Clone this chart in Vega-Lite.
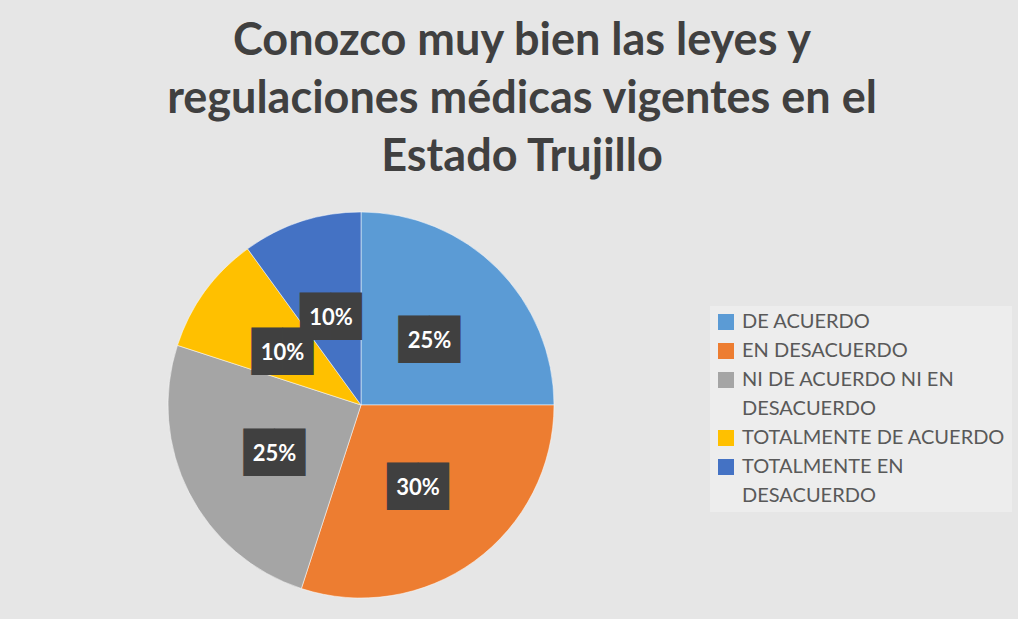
{
  "$schema": "https://vega.github.io/schema/vega-lite/v6.json",
  "width": 702,
  "height": 410,
  "autosize": {"type": "none"},
  "padding": {"left": 10, "top": 200, "right": 306, "bottom": 9},
  "background": "#e6e6e6",
  "title": {
    "text": ["Conozco muy bien las leyes y", "regulaciones médicas vigentes en el", "Estado Trujillo"],
    "font": "Lato",
    "fontSize": 45,
    "fontWeight": "bold",
    "color": "#404040",
    "lineHeight": 58,
    "anchor": "middle",
    "frame": "bounds",
    "offset": 20,
    "dx": 11
  },
  "config": {
    "style": {"guide-label": {"lineHeight": 29}},
    "view": {
      "stroke": null,
      "fill": {
        "gradient": "linear",
        "x1": 0, "y1": 0, "x2": 0, "y2": 1,
        "stops": [
          {"offset": 0, "color": "#e6e6e6"},
          {"offset": 1, "color": "#c8c8c8"}
        ]
      }
    }
  },
  "data": {
    "values": [
      {"categoria": "DE ACUERDO", "valor": 0.25},
      {"categoria": "EN DESACUERDO", "valor": 0.30},
      {"categoria": "NI DE ACUERDO NI EN DESACUERDO", "valor": 0.25},
      {"categoria": "TOTALMENTE DE ACUERDO", "valor": 0.10},
      {"categoria": "TOTALMENTE EN DESACUERDO", "valor": 0.10}
    ]
  },
  "encoding": {
    "theta": {"field": "valor", "type": "quantitative", "stack": true},
    "order": {"field": "categoria", "sort": "ascending"}
  },
  "layer": [
    {
      "mark": {"type": "arc", "outerRadius": 193, "stroke": "#ffffff", "strokeWidth": 1, "strokeOpacity": 0.5},
      "encoding": {
        "color": {
          "field": "categoria",
          "type": "nominal",
          "scale": {
            "domain": ["DE ACUERDO", "EN DESACUERDO", "NI DE ACUERDO NI EN DESACUERDO", "TOTALMENTE DE ACUERDO", "TOTALMENTE EN DESACUERDO"],
            "range": ["#5b9bd5", "#ed7d31", "#a5a5a5", "#ffc000", "#4472c4"]
          },
          "legend": {
            "title": null,
            "orient": "none",
            "legendX": 700,
            "legendY": 106,
            "padding": 6,
            "fillColor": "#ededed",
            "symbolType": "square",
            "symbolSize": 256,
            "symbolStrokeWidth": 0,
            "labelFont": "Lato",
            "labelFontSize": 20,
            "labelColor": "#595959",
            "labelOffset": 6,
            "labelLimit": 400,
            "rowPadding": 9,
            "labelExpr": "datum.label == 'NI DE ACUERDO NI EN DESACUERDO' ? ['NI DE ACUERDO NI EN', 'DESACUERDO'] : datum.label == 'TOTALMENTE EN DESACUERDO' ? ['TOTALMENTE EN', 'DESACUERDO'] : datum.label"
          }
        }
      }
    },
    {
      "mark": {"type": "text", "radius": 97, "dy": 5, "font": "DejaVu Sans", "fontSize": 40, "color": "#404040", "align": "center", "baseline": "middle"},
      "encoding": {
        "detail": {"field": "categoria", "type": "nominal"},
        "text": {"value": "██"}
      }
    },
    {
      "mark": {"type": "text", "radius": 97, "dy": 5, "font": "Lato", "fontSize": 22, "fontWeight": "bold", "color": "#ffffff", "align": "center", "baseline": "middle"},
      "encoding": {
        "detail": {"field": "categoria", "type": "nominal"},
        "text": {"field": "valor", "type": "quantitative", "format": ".0%"}
      }
    }
  ]
}
